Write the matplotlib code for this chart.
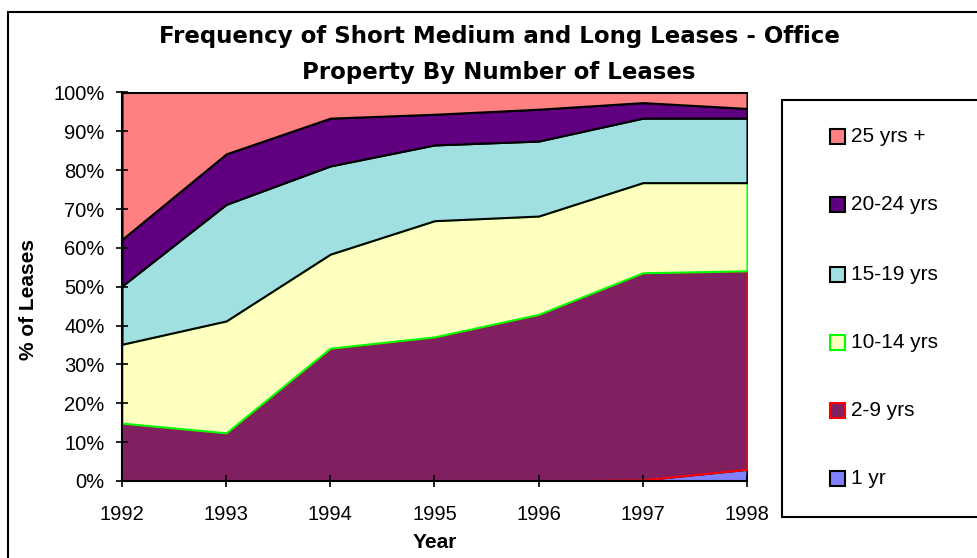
import matplotlib.pyplot as plt
from matplotlib.patches import Rectangle

plt.rcParams['font.family'] = ['Liberation Sans', 'DejaVu Sans']

# Datos (porcentaje de contratos por duracion)
years = [1992, 1993, 1994, 1995, 1996, 1997, 1998]
one_yr = [0.0, 0.0, 0.0, 0.0, 0.0, 0.3, 3.0]
yrs_2_9 = [14.9, 12.4, 34.2, 37.1, 42.9, 53.3, 51.1]
yrs_10_14 = [20.3, 28.8, 24.2, 29.9, 25.3, 23.2, 22.7]
yrs_15_19 = [15.0, 30.0, 22.7, 19.5, 19.3, 16.6, 16.6]
yrs_20_24 = [12.0, 13.0, 12.3, 7.9, 8.2, 4.0, 2.5]
yrs_25_plus = [37.8, 15.8, 6.6, 5.6, 4.3, 2.6, 4.1]

labels = ['1 yr', '2-9 yrs', '10-14 yrs', '15-19 yrs', '20-24 yrs', '25 yrs +']
fills = ['#8080FF', '#802060', '#FFFFC0', '#A0E0E0', '#600080', '#FF8080']
edges = ['black', '#FF0000', '#00FF00', 'black', 'black', 'black']

W, H = 977, 558
fig = plt.figure(figsize=(W / 100, H / 100), dpi=100)
ax = fig.add_axes([122 / W, 1 - 481 / H, (747 - 122) / W, (481 - 92.5) / H])

series = [one_yr, yrs_2_9, yrs_10_14, yrs_15_19, yrs_20_24, yrs_25_plus]
base = [0.0] * len(years)
for vals, fc, ec in zip(series, fills, edges):
    top = [b + v for b, v in zip(base, vals)]
    ax.fill_between(years, base, top, facecolor=fc, edgecolor=ec, linewidth=1.5)
    base = top

ax.set_xlim(1992, 1998)
ax.set_ylim(0, 100)
ax.set_xticks(years)
ax.set_yticks(range(0, 101, 10))
ax.set_yticklabels([f'{v}%' for v in range(0, 101, 10)])
ax.tick_params(direction='inout', length=9, width=1.2, labelsize=14.5, pad=8)
ax.tick_params(axis='x', pad=13)
for s in ['top', 'right']:
    ax.spines[s].set_visible(False)
for s in ['left', 'bottom']:
    ax.spines[s].set_linewidth(1.5)
    ax.spines[s].set_zorder(5)

# Titulos
fig.text(499 / W, 1 - 37 / H, 'Frequency of Short Medium and Long Leases - Office',
         ha='center', va='center', fontsize=16.5, fontweight='bold', family='DejaVu Sans')
fig.text(499 / W, 1 - 72 / H, 'Property By Number of Leases',
         ha='center', va='center', fontsize=16.5, fontweight='bold', family='DejaVu Sans')
fig.text(435 / W, 1 - 543 / H, 'Year', ha='center', va='center',
         fontsize=15, fontweight='bold')
fig.text(28 / W, 1 - 300 / H, '% of Leases', ha='center', va='center',
         rotation=90, fontsize=15, fontweight='bold')

# Marco del grafico
fig.patches.append(Rectangle((8 / W, -0.1), 1.1, 1.1 - 12 / H, transform=fig.transFigure,
                             fill=False, edgecolor='black', linewidth=1.5))

# Leyenda manual
fig.patches.append(Rectangle((782 / W, 1 - 517 / H), 0.3, (517 - 100) / H,
                             transform=fig.transFigure, fill=True, facecolor='white',
                             edgecolor='black', linewidth=1.5))
ys = [478, 410, 342, 274, 204, 136]
for lab, fc, ec, y in zip(labels, fills, edges, ys):
    fig.patches.append(Rectangle((830 / W, 1 - (y + 7.5) / H), 15 / W, 15 / H,
                                 transform=fig.transFigure, facecolor=fc,
                                 edgecolor=ec, linewidth=1.5))
    fig.text(851 / W, 1 - y / H, lab, ha='left', va='center', fontsize=15)

plt.savefig('out.png', dpi=100)
